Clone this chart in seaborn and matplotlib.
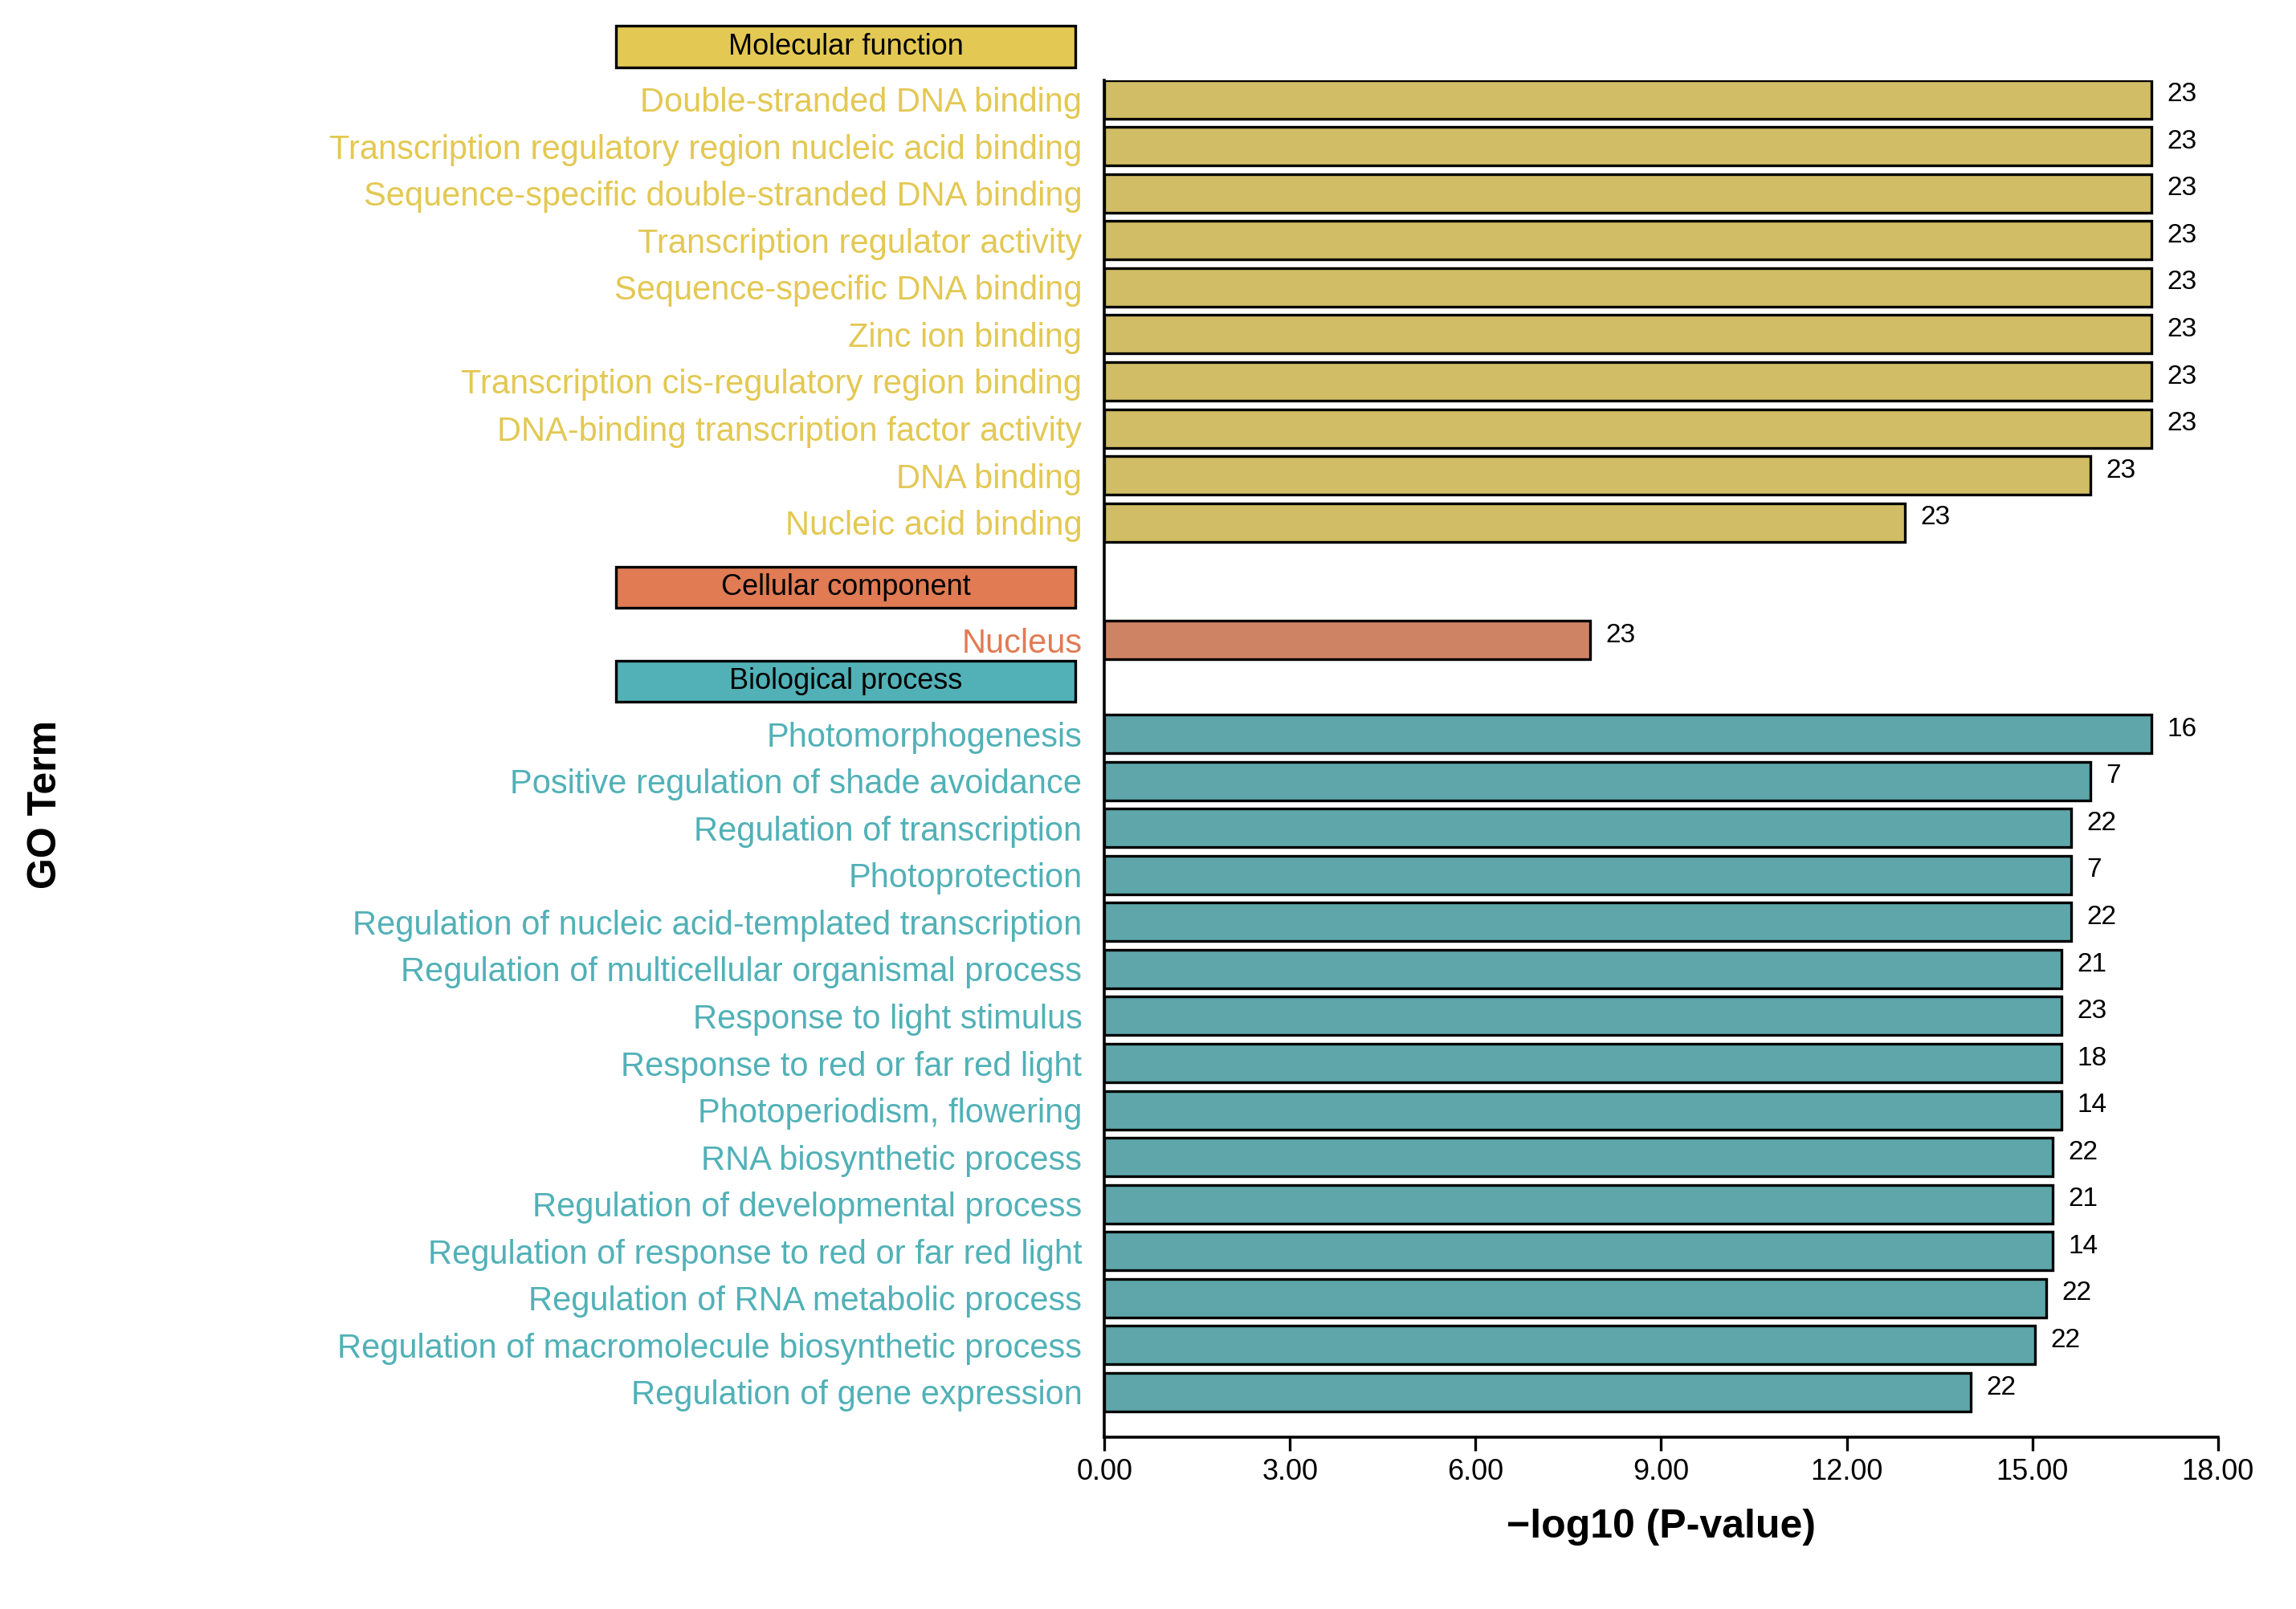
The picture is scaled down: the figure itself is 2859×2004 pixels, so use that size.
import matplotlib
matplotlib.use("Agg")
import matplotlib.pyplot as plt
import seaborn as sns
import pandas as pd
from matplotlib.patches import Rectangle

plt.rcParams["font.family"] = "Liberation Sans"

mf_terms = ["Double-stranded DNA binding", "Transcription regulatory region nucleic acid binding",
            "Sequence-specific double-stranded DNA binding", "Transcription regulator activity",
            "Sequence-specific DNA binding", "Zinc ion binding",
            "Transcription cis-regulatory region binding", "DNA-binding transcription factor activity",
            "DNA binding", "Nucleic acid binding"]
mf_vals = [16.93, 16.93, 16.93, 16.93, 16.93, 16.93, 16.93, 16.93, 15.94, 12.94]
mf_counts = [23] * 10

cc_terms = ["Nucleus"]
cc_vals = [7.85]
cc_counts = [23]

bp_terms = ["Photomorphogenesis", "Positive regulation of shade avoidance", "Regulation of transcription",
            "Photoprotection", "Regulation of nucleic acid-templated transcription",
            "Regulation of multicellular organismal process", "Response to light stimulus",
            "Response to red or far red light", "Photoperiodism, flowering", "RNA biosynthetic process",
            "Regulation of developmental process", "Regulation of response to red or far red light",
            "Regulation of RNA metabolic process", "Regulation of macromolecule biosynthetic process",
            "Regulation of gene expression"]
bp_vals = [16.93, 15.94, 15.63, 15.63, 15.63, 15.47, 15.47, 15.47, 15.47, 15.33, 15.33, 15.33, 15.23, 15.04, 14.0]
bp_counts = [16, 7, 22, 7, 22, 21, 23, 18, 14, 22, 21, 14, 22, 22, 22]

groups = ["Molecular function", "Cellular component", "Biological process"]
colors = {"Molecular function": "#E3C853", "Cellular component": "#E07B54", "Biological process": "#51B1B7"}
gaps = [2.5, 2.0]

rows = []
headers = []
pos = 0.0
for gi, (g, terms, vals, cnts) in enumerate(zip(groups, [mf_terms, cc_terms, bp_terms],
                                                [mf_vals, cc_vals, bp_vals],
                                                [mf_counts, cc_counts, bp_counts])):
    headers.append((g, pos - 1.12))
    for t, v, c in zip(terms, vals, cnts):
        rows.append(dict(term=t, val=v, cnt=c, group=g, pos=pos))
        pos += 1
    pos -= 1
    if gi < len(gaps):
        pos += gaps[gi]
df = pd.DataFrame(rows)

fig = plt.figure(figsize=(14.295, 10.02), dpi=200)
ax = fig.add_axes([0.481, 0.107, 0.485, 0.843])
sns.barplot(data=df, x="val", y="pos", hue="group", palette=colors, orient="h",
            native_scale=True, width=0.82, edgecolor="black", linewidth=1.2,
            dodge=False, legend=False, ax=ax)
ax.set_ylim(28.45, -0.4)
ax.set_xlim(0, 18)
ax.set_xticks([0, 3, 6, 9, 12, 15, 18])
ax.set_xticklabels([f"{v:.2f}" for v in [0, 3, 6, 9, 12, 15, 18]], fontsize=13)
ax.set_yticks(df["pos"])
ax.set_yticklabels(df["term"], fontsize=15)
for lbl, g in zip(ax.get_yticklabels(), df["group"]):
    lbl.set_color(colors[g])
ax.tick_params(axis="y", length=0, pad=10)
ax.tick_params(axis="x", length=6, width=1.2)
for s in ["top", "right"]:
    ax.spines[s].set_visible(False)
for s in ["left", "bottom"]:
    ax.spines[s].set_linewidth(1.3)
for _, r in df.iterrows():
    ax.text(r["val"] + 0.25, r["pos"] - 0.1, str(r["cnt"]), va="center", ha="left", fontsize=12)
for g, y in headers:
    ax.add_patch(Rectangle((-7.9, y - 0.44), 7.43, 0.88, facecolor=colors[g], edgecolor="black",
                           linewidth=1.2, clip_on=False))
    ax.text(-4.18, y, g, ha="center", va="center", fontsize=13)
ax.set_xlabel("\u2212log10 (P-value)", fontsize=18, fontweight="bold", labelpad=10)
ax.set_ylabel("")
fig.text(0.02, 0.5, "GO Term", rotation=90, va="center", ha="center", fontsize=18, fontweight="bold")
fig.savefig("out.png", dpi=200, facecolor="white")
